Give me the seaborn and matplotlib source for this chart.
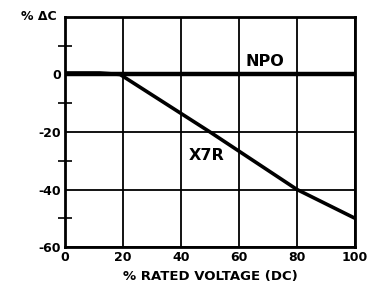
import matplotlib
matplotlib.use("Agg")
import matplotlib.pyplot as plt
import seaborn as sns
import pandas as pd
from matplotlib.ticker import FixedLocator

# Data
voltage_npo = [0, 100]
dc_npo = [0, 0]
voltage_x7r = [0, 12, 19, 50, 80, 100]
dc_x7r = [0.5, 0.5, 0, -20, -40, -50]
x_ticks = [0, 20, 40, 60, 80, 100]
y_ticks = [0, -20, -40, -60]

sns.set_style("white")
plt.rcParams['font.family'] = ['DejaVu Sans']
plt.rcParams['font.weight'] = 'bold'
plt.rcParams['text.color'] = 'black'
plt.rcParams['axes.labelcolor'] = 'black'
plt.rcParams['xtick.color'] = 'black'
plt.rcParams['ytick.color'] = 'black'

df_npo = pd.DataFrame({"v": voltage_npo, "c": dc_npo})
df_x7r = pd.DataFrame({"v": voltage_x7r, "c": dc_x7r})

fig = plt.figure(figsize=(3.69, 3.02), dpi=100)
ax = fig.add_axes([0.176, 0.182, 0.786, 0.762])

ax.set_xlim(0, 100)
ax.set_ylim(-60, 20)
ax.set_xticks(x_ticks)
ax.set_yticks(y_ticks)
ax.set_yticklabels([str(t) for t in y_ticks])
ax.yaxis.set_minor_locator(FixedLocator([10, -10, -30, -50]))
ax.grid(True, which='major', color='black', linewidth=1.3)
ax.set_axisbelow(True)
ax.tick_params(axis='both', which='major', length=0, labelsize=9, pad=3,
               labelcolor='black')
ax.tick_params(axis='y', which='minor', left=True, direction='inout', length=10,
               width=1.2, color='black')
for s in ax.spines.values():
    s.set_color('black')
    s.set_linewidth(2)

sns.lineplot(data=df_npo, x="v", y="c", ax=ax, color='black', linewidth=3.2)
sns.lineplot(data=df_x7r, x="v", y="c", ax=ax, color='black', linewidth=2.6)

for lab in ax.get_xticklabels() + ax.get_yticklabels():
    lab.set_fontweight('bold')
    lab.set_color('black')

ax.set_xlabel("% RATED VOLTAGE (DC)", fontsize=9.5, fontweight='bold', labelpad=4,
              color='black')
ax.set_ylabel("")
ax.text(69, 4.5, "NPO", fontsize=11.5, fontweight='bold', ha='center', va='center',
        color='black')
ax.text(49, -28.3, "X7R", fontsize=11.5, fontweight='bold', ha='center', va='center',
        color='black')
ax.text(-0.03, 1.0, "% ΔC", transform=ax.transAxes, fontsize=9, fontweight='bold',
        ha='right', va='center', color='black')

fig.savefig("out.png", dpi=100)
